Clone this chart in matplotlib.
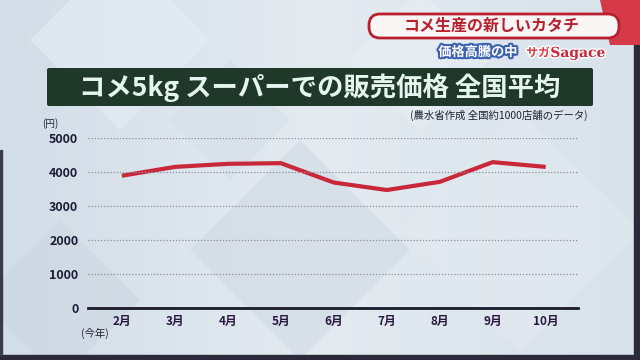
import matplotlib.pyplot as plt
import matplotlib.patheffects as pe
from matplotlib.patches import FancyBboxPatch, Polygon, Rectangle
import numpy as np

plt.rcParams['font.family'] = ['Noto Sans CJK JP', 'DejaVu Sans']

# data (yen, national average, 5kg rice)
months = ['2月', '3月', '4月', '5月', '6月', '7月', '8月', '9月', '10月']
price = [3890, 4150, 4240, 4260, 3690, 3470, 3710, 4290, 4150]
yticks = [0, 1000, 2000, 3000, 4000, 5000]

W, H = 640, 360
fig = plt.figure(figsize=(6.4, 3.6), dpi=100)
fig.patch.set_facecolor('#d9e3ec')

def px(x, y):
    return x / W, 1 - y / H

# background diamonds (texture)
bg = fig.add_axes([0, 0, 1, 1])
bg.set_xlim(0, W)
bg.set_ylim(H, 0)
bg.axis('off')
bg.imshow(np.linspace(0, 1, 100).reshape(1, -1), extent=[0, W, H, 0], aspect='auto',
          cmap=plt.cm.colors.LinearSegmentedColormap.from_list('bg', ['#d2dde8', '#e4ebf1', '#d8e2eb']))
for cx, cy, r, c in [(120, 40, 90, '#e6eef5'), (300, 250, 110, '#d0dae4'), (520, 230, 120, '#e3eaf0'),
                     (60, 300, 80, '#cdd7e1'), (420, 60, 70, '#e8eff5'), (230, 120, 60, '#d5e0e9')]:
    bg.add_patch(Polygon([(cx, cy - r), (cx + r, cy), (cx, cy + r), (cx - r, cy)], color=c, alpha=0.6, lw=0))
# tv frame edges
bg.add_patch(Rectangle((634, 0), 6, 360, color='#2a2a3a'))
bg.add_patch(Rectangle((0, 355), 640, 5, color='#2a2a3a'))
bg.add_patch(Rectangle((0, 150), 2, 205, color='#3a3a4a'))

# title box
bg.add_patch(FancyBboxPatch((47, 68), 546, 38, boxstyle='round,pad=0,rounding_size=2',
                            fc='#1f3829', ec='none'))
bg.text(320, 88, 'コメ5kg スーパーでの販売価格 全国平均', color='#e6f5f0', fontsize=19,
        fontweight='bold', ha='center', va='center')

# top right caption box
bg.add_patch(Polygon([(600, 0), (640, 0), (640, 45), (610, 45)], color='#d63a48', lw=0))
bg.add_patch(FancyBboxPatch((369, 14), 250, 24, boxstyle='round,pad=0,rounding_size=11',
                            fc='#fbf6f6', ec='#b8202e', lw=2))
bg.text(492, 26, 'コメ生産の新しいカタチ', color='#b8202e', fontsize=11.5, fontweight='bold',
        ha='center', va='center')
bg.text(478, 52, '価格高騰の中', color='white', fontsize=9.5, fontweight='bold', ha='center', va='center',
        path_effects=[pe.withStroke(linewidth=3, foreground='#3d63b0')])
bg.text(538, 53, 'サガ', color='#d63a48', fontsize=8.5, fontweight='bold', ha='center', va='center',
        path_effects=[pe.withStroke(linewidth=2, foreground='white')])
bg.text(578, 53, 'Sagace', color='#c8283a', fontsize=10, fontweight='bold', ha='center', va='center',
        family='DejaVu Serif', path_effects=[pe.withStroke(linewidth=2, foreground='white')])

# source note and units
bg.text(588, 115, '(農水省作成 全国約1000店舗のデータ)', color='#222233', fontsize=7.5,
        ha='right', va='center')
bg.text(50, 124, '(円)', color='#222233', fontsize=7, ha='center', va='center')
bg.text(95, 333, '(今年)', color='#222233', fontsize=7.5, ha='center', va='center')

# chart axes
x0, y0 = px(88, 308)
x1, y1 = px(578, 138)
ax = fig.add_axes([x0, y0, x1 - x0, y1 - y0])
ax.patch.set_alpha(0)
x = np.arange(len(months))
ax.plot(x, price, color='#c8283a', lw=3, solid_capstyle='butt', solid_joinstyle='miter')
ax.set_xlim(-0.64, 8.61)
ax.set_ylim(0, 5000)
ax.set_yticks(yticks)
ax.set_yticklabels([str(v) for v in yticks], fontsize=9, color='#1c1c36', fontweight='bold')
ax.set_xticks(x)
ax.set_xticklabels(months, fontsize=8.5, color='#2a1a40', fontweight='bold')
ax.tick_params(length=0, pad=7)
ax.tick_params(axis='x', pad=5)
for v in yticks[1:]:
    ax.axhline(v, color='#8a8f9a', lw=0.9, ls=(0, (1, 1.5)))
for s in ['top', 'right', 'left']:
    ax.spines[s].set_visible(False)
ax.spines['bottom'].set_color('#1a1a2a')
ax.spines['bottom'].set_linewidth(2)

fig.savefig('out.png', dpi=100)
